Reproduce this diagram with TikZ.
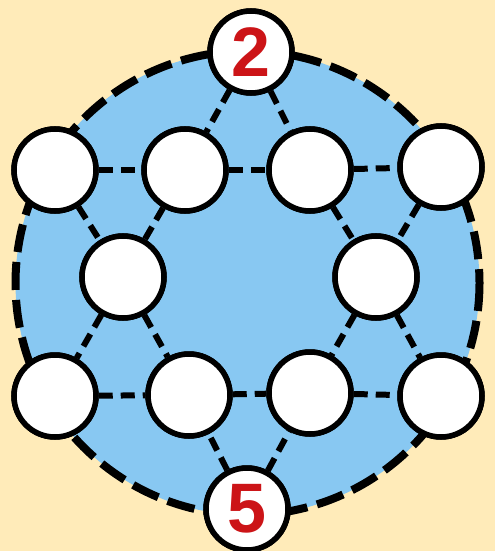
\documentclass[tikz,border=0pt]{standalone}
\usepackage{fontspec}
\setmainfont{Liberation Sans}
\definecolor{bgyellow}{HTML}{FFEBB9}
\definecolor{diskblue}{HTML}{88C8F2}
\definecolor{numred}{HTML}{CC1417}
\tikzset{
  spot/.style={circle,draw=black,fill=white,line width=5.5pt,minimum size=82pt,inner sep=0pt},
  numspot/.style={spot,font=\fontsize{70}{70}\selectfont\bfseries,text=numred},
  link/.style={draw=black,line width=6pt,dash pattern=on 14pt off 8pt},
}
\begin{document}
\begin{tikzpicture}[x=1pt,y=-1pt]
\fill[bgyellow] (0,0) rectangle (495,551);
\useasboundingbox (0,0) rectangle (495,551);
\coordinate (ctr) at (247.5,283);
\fill[diskblue] (ctr) circle[radius=232];
\draw[line width=8pt,dash pattern=on 28pt off 10pt] (ctr) circle[radius=232];
% nodes
\node[numspot] (T) at (251,52) {2};
\node[numspot] (B) at (247,509) {5};
\node[spot] (A1) at (55,170) {};
\node[spot] (A2) at (185,170) {};
\node[spot] (A3) at (310,170) {};
\node[spot] (A4) at (441,167) {};
\node[spot] (M1) at (123,277) {};
\node[spot] (M2) at (376,277) {};
\node[spot] (C1) at (55,396) {};
\node[spot] (C2) at (189,395) {};
\node[spot] (C3) at (310,393) {};
\node[spot] (C4) at (441,396) {};
% links
\foreach \a/\b in {T/A2,T/A3,A1/A2,A2/A3,A3/A4,A1/M1,A2/M1,A3/M2,A4/M2,M1/C1,M1/C2,M2/C3,M2/C4,C1/C2,C2/C3,C3/C4,B/C2,B/C3}
  \path[link] (\a) -- (\b);
% redraw nodes on top
\node[numspot] at (T) {2};
\node[numspot] at (B) {5};
\foreach \n in {A1,A2,A3,A4,M1,M2,C1,C2,C3,C4}
  \node[spot] at (\n) {};
\end{tikzpicture}
\end{document}
